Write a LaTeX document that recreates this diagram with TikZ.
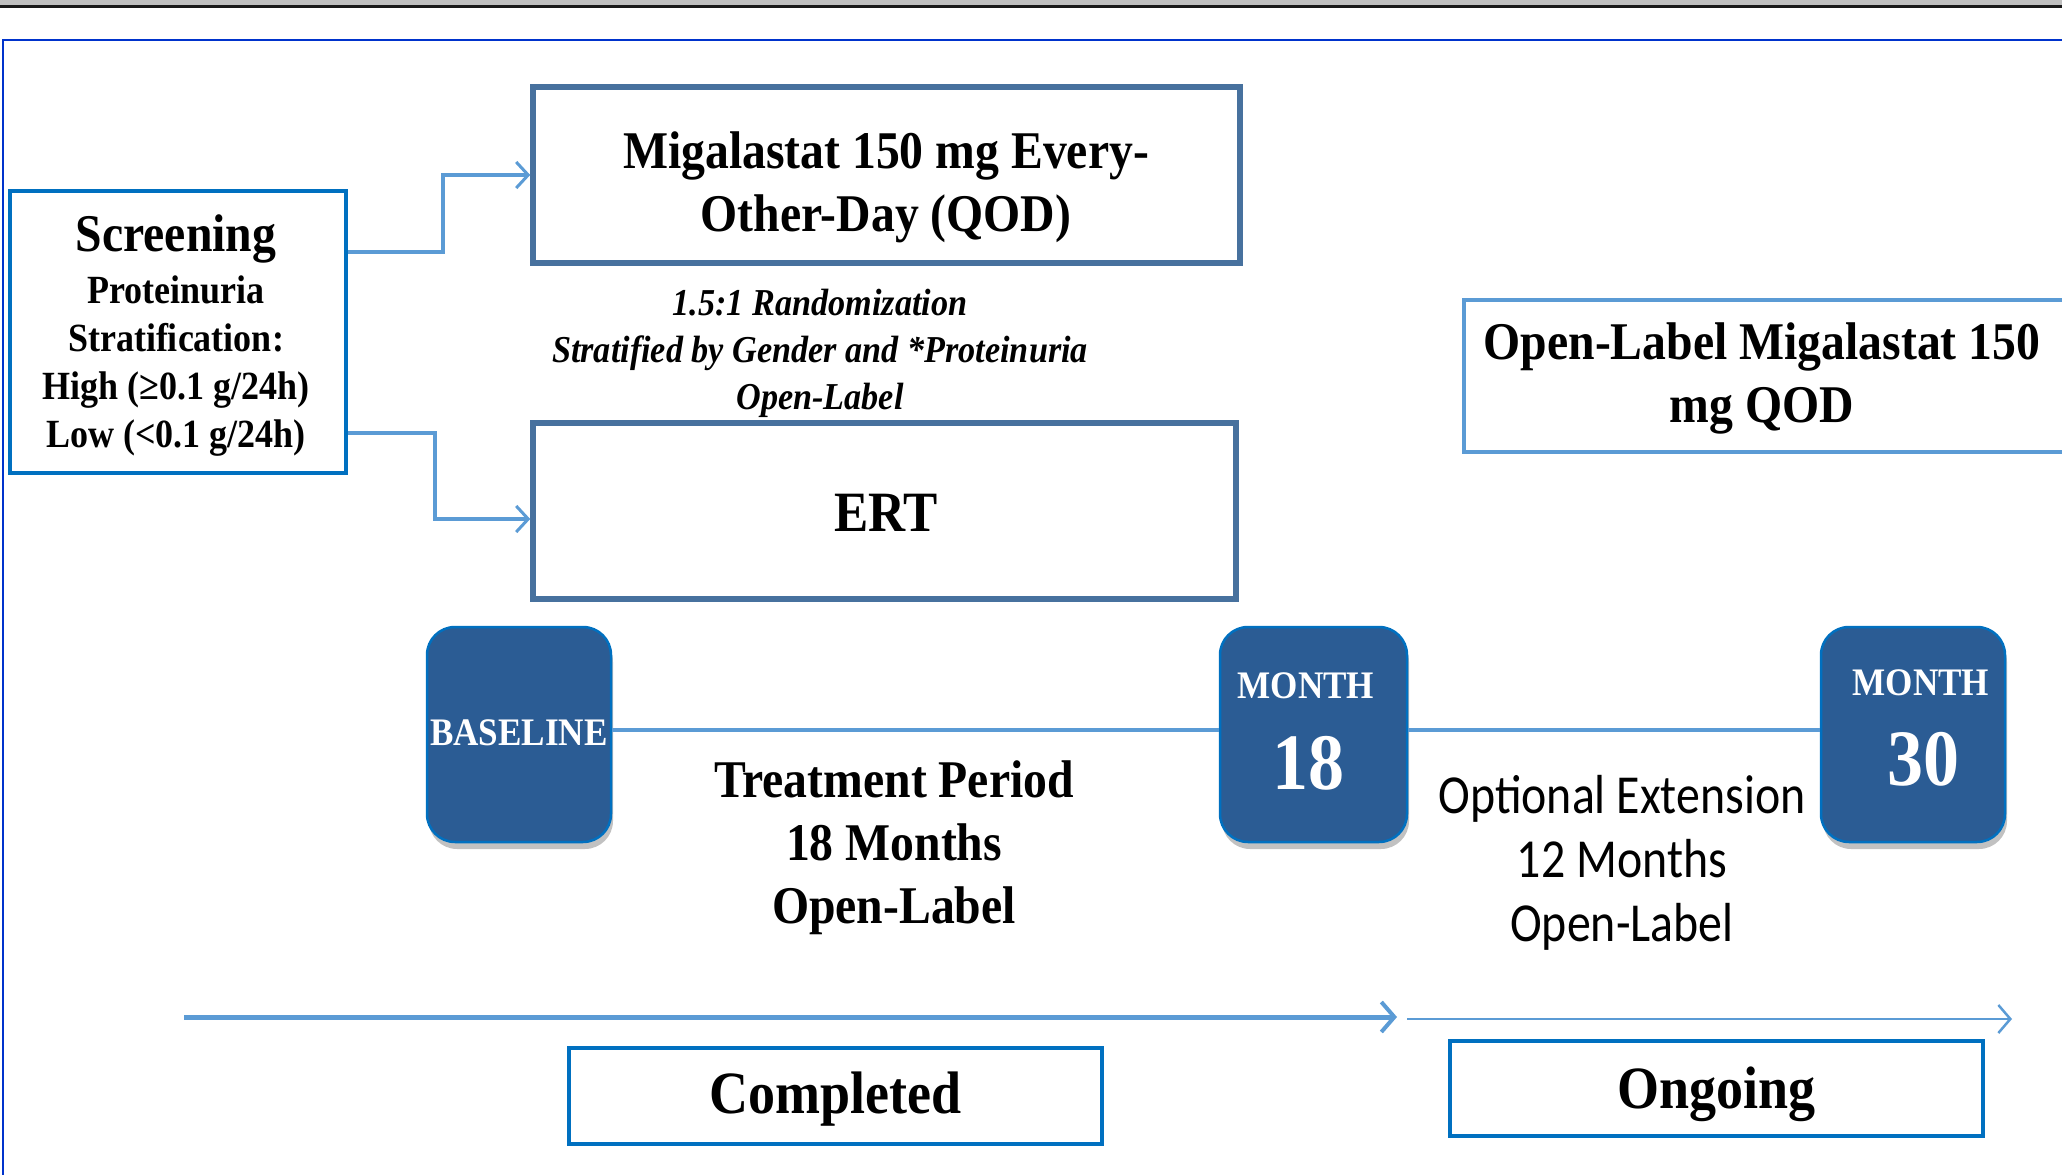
\documentclass[tikz,border=0pt]{standalone}
\usepackage{fontspec}
\setmainfont{Liberation Serif}[FakeStretch=0.9]
\newfontfamily\calfont{Carlito}[FakeStretch=0.87]
\usetikzlibrary{arrows.meta,shadows}
\definecolor{frameblue}{RGB}{0,51,204}
\definecolor{boxblue}{RGB}{0,112,192}
\definecolor{steel}{RGB}{71,113,158}
\definecolor{lineblue}{RGB}{91,155,213}
\definecolor{tilefill}{RGB}{43,92,148}
\newcommand\fsz[2]{\fontsize{#1}{#2}\selectfont}
\begin{document}
\begin{tikzpicture}[x=1pt,y=-1pt,
  plainbox/.style={draw=boxblue,line width=4pt,inner sep=0pt},
  armbox/.style={draw=steel,line width=5.5pt,inner sep=0pt},
  olbox/.style={draw=lineblue,line width=3.5pt,inner sep=0pt},
  tile/.style={draw=boxblue,line width=2.5pt,fill=tilefill,rounded corners=28pt,
    minimum height=215pt,inner sep=0pt,
    drop shadow={shadow xshift=2pt,shadow yshift=-7pt,fill=black!30,opacity=0.8}},
  tiletext/.style={text=white,inner sep=0pt},
  conn/.style={draw=lineblue,line width=3.5pt,-{Straight Barb[length=12pt,width=26pt,line width=3pt]}},
  tl/.style={draw=lineblue,line width=3.5pt},
  txt/.style={align=center,inner sep=0pt}]
\useasboundingbox (0,0) rectangle (2062,1175);
% top bar and frame
\fill[black!25] (0,0) rectangle (2062,4.5);
\fill[black!90] (0,4.5) rectangle (2062,7.5);
\draw[frameblue,line width=2.5pt] (3,1180) -- (3,40) -- (2070,40);
% screening
\node[plainbox,minimum width=336pt,minimum height=282pt] (scr) at (178,332) {};
\node[txt,font=\bfseries\fsz{40}{48}] (scrt) at (176,336)
  {\fontsize{53}{60}\selectfont Screening\\[4pt]Proteinuria\\Stratification:\\High (≥0.1 g/24h)\\Low (<0.1 g/24h)};
% arms
\node[armbox,minimum width=707pt,minimum height=176pt] (mig) at (886.5,175) {};
\node[txt,font=\bfseries\fsz{53}{63}] (migt) at (886,187) {Migalastat 150 mg Every-\\Other-Day (QOD)};
\node[armbox,minimum width=703pt,minimum height=176pt] (ert) at (884.5,511) {};
\node[txt,font=\bfseries\fsz{57}{63}] (ertt) at (886,513) {ERT};
\node[txt,font=\bfseries\itshape\fsz{38}{47}] (rand) at (820,353)
  {1.5:1 Randomization\\Stratified by Gender and *Proteinuria\\Open-Label};
\draw[conn] (scr.east |- 0,252) -| (443,175) -- (mig.west |- 0,175);
\draw[conn] (scr.east |- 0,433) -| (435,519) -- (ert.west |- 0,519);
% open-label box
\node[olbox,minimum width=611pt,minimum height=152pt] (ol) at (1769.5,376) {};
\node[txt,font=\bfseries\fsz{53}{63}] (olt) at (1762,378) {Open-Label Migalastat 150\\mg QOD};
% timeline tiles
\node[tile,minimum width=184pt] (base) at (519,734.5) {};
\node[tiletext,font=\bfseries\fsz{39}{39}] (baset) at (519,733) {BASELINE};
\node[tile,minimum width=187pt] (m18) at (1313.5,734.5) {};
\node[tiletext,font=\bfseries\fsz{39}{39}] (m18a) at (1306,686) {MONTH};
\node[tiletext,font=\bfseries\fsz{80}{80}] (m18b) at (1308,763) {18};
\node[tile,minimum width=184pt] (m30) at (1913,734.5) {};
\node[tiletext,font=\bfseries\fsz{39}{39}] (m30a) at (1921,683) {MONTH};
\node[tiletext,font=\bfseries\fsz{80}{80}] (m30b) at (1923,759) {30};
\draw[tl] (base.east |- 0,730) -- (m18.west |- 0,730);
\draw[tl] (m18.east |- 0,730) -- (m30.west |- 0,730);
\node[txt,font=\bfseries\fsz{53}{63}] (treat) at (894,848) {Treatment Period\\18 Months\\Open-Label};
\node[txt,font=\calfont\fsz{55}{64}] (ext) at (1622,863) {Optional Extension\\12 Months\\Open-Label};
% bottom arrows
\coordinate (a1s) at (184,1017);
\coordinate (a1e) at (1397,1017);
\coordinate (a2s) at (1407,1019);
\coordinate (a2e) at (2012,1019);
\draw[draw=lineblue,line width=5pt,-{Straight Barb[length=13pt,width=30pt,line width=4pt]}] (a1s) -- (a1e);
\draw[draw=lineblue,line width=2.5pt,-{Straight Barb[length=12pt,width=28pt,line width=2.5pt]}] (a2s) -- (a2e);
\node[plainbox,minimum width=533pt,minimum height=96pt] (comp) at (835.5,1096) {};
\node[font=\bfseries\fsz{60}{60},inner sep=0pt] (compt) at (835.5,1099) {Completed};
\node[plainbox,minimum width=533pt,minimum height=95pt] (ong) at (1716.5,1088.5) {};
\node[font=\bfseries\fsz{60}{60},inner sep=0pt] (ongt) at (1716.5,1094) {Ongoing};
\end{tikzpicture}
\end{document}
